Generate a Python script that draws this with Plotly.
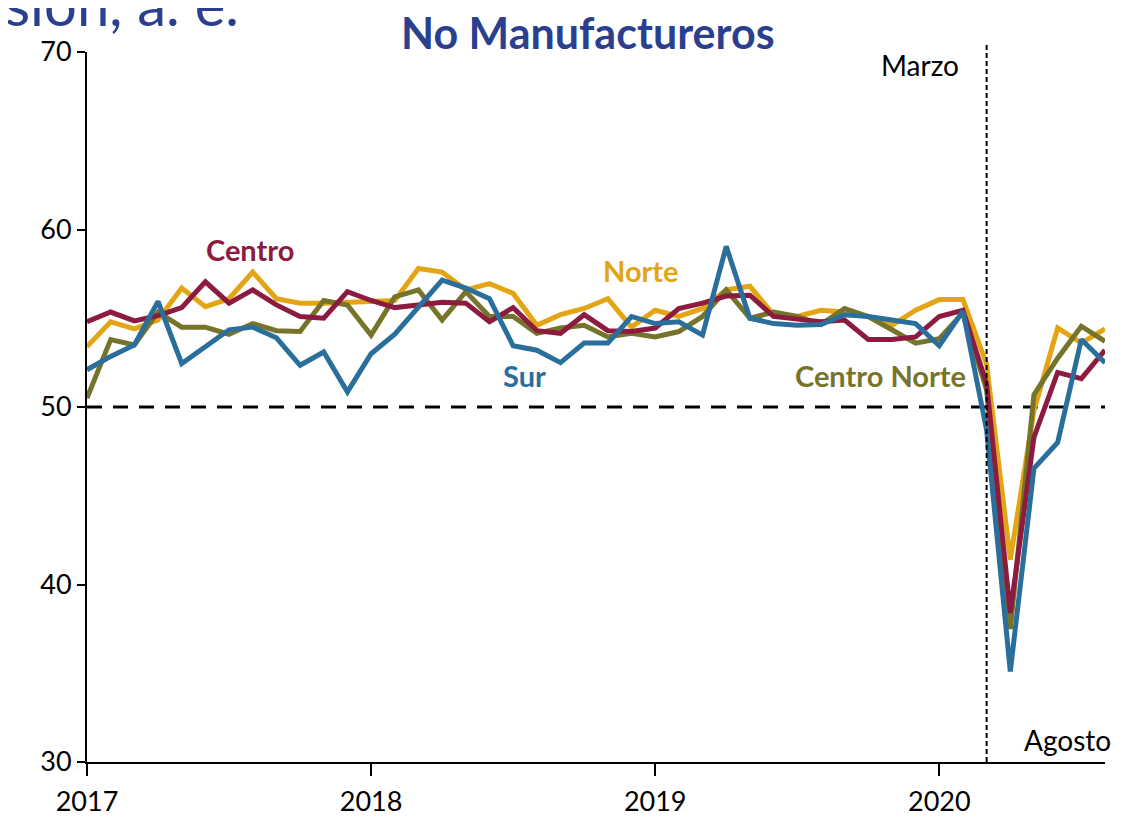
import plotly.graph_objects as go

months = list(range(44))  # Jan 2017 .. Aug 2020
year_ticks = [0, 12, 24, 36]
year_labels = ["2017", "2018", "2019", "2020"]

centro = [54.8, 55.35, 54.85, 55.15, 55.6, 57.05, 55.85, 56.6, 55.75, 55.1, 55.0, 56.5,
          56.0, 55.6, 55.75, 55.9, 55.85, 54.8, 55.6, 54.3, 54.15, 55.2, 54.3, 54.25,
          54.45, 55.55, 55.85, 56.25, 56.3, 55.1, 54.95, 54.8, 54.9, 53.8, 53.8, 53.95,
          55.1, 55.45, 51.3, 38.4, 48.3, 51.95, 51.6, 53.2]
norte = [53.4, 54.8, 54.4, 54.9, 56.7, 55.65, 56.1, 57.6, 56.1, 55.85, 55.85, 55.9,
         55.9, 56.0, 57.8, 57.6, 56.6, 56.95, 56.4, 54.6, 55.2, 55.55, 56.1, 54.5,
         55.45, 55.1, 55.55, 56.6, 56.8, 55.2, 55.1, 55.45, 55.35, 55.1, 54.6, 55.45,
         56.05, 56.05, 52.4, 41.4, 49.8, 54.45, 53.6, 54.4]
centro_norte = [50.5, 53.8, 53.5, 55.35, 54.5, 54.5, 54.1, 54.7, 54.3, 54.25, 56.0, 55.75,
                54.05, 56.2, 56.6, 54.9, 56.5, 55.1, 55.1, 54.15, 54.45, 54.6, 53.95, 54.15,
                53.95, 54.25, 55.1, 56.6, 55.0, 55.35, 55.1, 54.65, 55.55, 55.1, 54.35, 53.6,
                53.85, 55.3, 50.95, 37.5, 50.7, 52.75, 54.55, 53.7]
sur = [52.1, 52.85, 53.5, 55.95, 52.45, 53.4, 54.35, 54.5, 53.9, 52.35, 53.1, 50.85,
       53.0, 54.1, 55.65, 57.15, 56.7, 56.1, 53.45, 53.2, 52.5, 53.6, 53.6, 55.1,
       54.7, 54.8, 54.05, 59.05, 55.0, 54.7, 54.6, 54.65, 55.2, 55.1, 54.9, 54.7,
       53.45, 55.4, 48.7, 35.1, 46.55, 48.0, 53.8, 52.5]

C_CENTRO = "#8C1B3F"
C_NORTE = "#E3A514"
C_CN = "#76742A"
C_SUR = "#2A6E9C"
C_TITLE = "#2B3F8F"
FONT = "Lato"

fig = go.Figure()
for name, vals, col in [("Norte", norte, C_NORTE), ("Centro Norte", centro_norte, C_CN),
                        ("Centro", centro, C_CENTRO), ("Sur", sur, C_SUR)]:
    fig.add_trace(go.Scatter(x=months, y=vals, mode="lines", name=name,
                             line=dict(color=col, width=5), showlegend=False))

# reference lines
fig.add_shape(type="line", xref="paper", x0=0, x1=1, yref="y", y0=50, y1=50,
              line=dict(color="black", width=3, dash="15px,11px"), layer="below")
fig.add_shape(type="line", xref="x", x0=38, x1=38, yref="paper", y0=0, y1=1.01,
              line=dict(color="black", width=2, dash="5px,3px"))

def lab(text, x, y, color, size=29, bold=True, **kw):
    fig.add_annotation(text=f"<b>{text}</b>" if bold else text, x=x, y=y,
                       xref="x", yref="y", showarrow=False,
                       xanchor="center", yanchor="middle",
                       font=dict(family=FONT, size=size, color=color), **kw)

lab("Centro", 6.9, 58.85, C_CENTRO)
lab("Norte", 23.4, 57.7, C_NORTE)
lab("Sur", 18.5, 51.75, C_SUR)
lab("Centro Norte", 33.5, 51.8, C_CN)
lab("Marzo", 35.2, 69.27, "black", size=28, bold=False)
lab("Agosto", 41.4, 31.25, "black", size=28, bold=False)

fig.add_annotation(text="<b>No Manufactureros</b>", xref="paper", yref="paper",
                   x=0.492, y=1.028, xanchor="center", yanchor="middle", showarrow=False,
                   font=dict(family=FONT, size=43, color=C_TITLE))
fig.add_annotation(text="sión, a. e.", xref="paper", yref="paper",
                   x=-0.0825, y=1.069, xanchor="left", yanchor="middle", showarrow=False,
                   font=dict(family=FONT, size=58, color=C_TITLE))

fig.update_xaxes(range=[0, 43], tickvals=year_ticks, ticktext=year_labels,
                 showgrid=False, zeroline=False, showline=True, linecolor="black",
                 linewidth=2, ticks="outside", ticklen=12, tickwidth=1.5,
                 tickcolor="black", ticklabelstandoff=3, automargin=False,
                 tickfont=dict(family=FONT, size=27, color="black"))
fig.update_yaxes(range=[30, 70], tickvals=[30, 40, 50, 60, 70],
                 showgrid=False, zeroline=False, showline=True, linecolor="black",
                 linewidth=2, ticks="outside", ticklen=8, tickwidth=1.5,
                 tickcolor="black", ticklabelstandoff=0, automargin=False,
                 tickfont=dict(family=FONT, size=27, color="black"))

fig.update_layout(width=1140, height=821, margin=dict(l=79, r=43, t=44, b=67),
                  plot_bgcolor="white", paper_bgcolor="white",
                  font=dict(family=FONT))
fig.write_html("out.html")
